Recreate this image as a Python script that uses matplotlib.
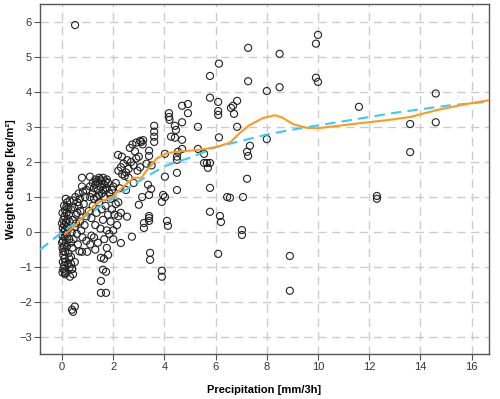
import numpy as np
import matplotlib.pyplot as plt

# DATA --->

# dense cluster close to zero precipitation
precip_low = [0.02, 0.05, 0.08, 0.03, 0.10, 0.05, 0.12, 0.02, 0.08, 0.15, 0.04, 0.10, 0.02, 0.18, 0.06,
              0.12, 0.03, 0.20, 0.08, 0.15, 0.05, 0.22, 0.10, 0.02, 0.18, 0.12, 0.25, 0.08, 0.20, 0.15,
              0.30, 0.28, 0.25, 0.22, 0.30, 0.12, 0.25, 0.30, 0.20, 0.28, 0.05, 0.14, 0.10, 0.27, 0.00,
              0.00, 0.17, 0.12, 0.31, 0.43, 0.39, 0.35,
              0.35, 0.40, 0.45, 0.38, 0.50, 0.42, 0.55, 0.48, 0.60, 0.52, 0.65, 0.70, 0.75, 0.80, 0.62,
              0.72, 0.85, 0.90, 0.95, 0.88, 0.58, 0.68, 0.78, 0.98, 0.45, 0.35, 0.55, 0.65, 0.82, 0.95,
              0.40, 0.50, 0.35, 0.70, 0.60]
weight_low = [-1.15, -1.05, -0.95, -0.85, -0.75, -0.65, -0.55, -0.45, -0.40, -0.30, -0.25, -0.15, -0.10, -0.05, 0.00,
              0.05, 0.12, 0.15, 0.20, 0.28, 0.35, 0.38, 0.45, 0.55, 0.55, 0.62, 0.70, 0.75, 0.85, 0.95,
              0.90, -0.20, -0.60, -0.90, -1.00, -1.20, 0.10, 0.30, -0.40, -0.75, -0.55, -0.85, -1.10, 0.50, -0.30,
              0.25, 0.72, -1.16, -1.27, -1.20, -1.05, -0.90,
              -0.70, -0.45, -0.20, 0.00, 0.15, 0.35, 0.50, 0.70, 0.85, 1.00, 1.10, 0.30, 0.05, -0.15, -0.35,
              0.60, 0.80, 1.00, 0.45, 0.20, -0.05, -0.55, -0.56, -0.56, 0.90, 0.65, 0.25, 0.75, 1.15, 1.20,
              -1.05, -0.85, -0.30, 0.95, 0.55]

# 1 - 3.2 mm/3h
precip_mid = [1.10, 1.20, 1.25, 1.30, 1.35, 1.40, 1.45, 1.50, 1.55, 1.60, 1.65, 1.70, 1.75, 1.80, 1.85,
              1.90, 1.45, 1.30, 1.55, 1.65, 1.75, 1.20, 1.40, 1.60, 1.50, 1.70, 1.35, 1.25, 2.00, 2.10,
              1.95, 0.78, 1.09, 0.78, 1.09,
              1.05, 1.15, 1.20, 1.30, 1.35, 1.45, 1.50, 1.55, 1.60, 1.70, 1.75, 1.80, 1.90, 1.95, 2.05,
              2.10, 2.15, 1.25, 1.40, 1.15, 1.65, 1.85, 2.00, 2.20, 2.30, 2.54, 2.30, 2.73, 2.20,
              1.64, 1.52, 1.80, 1.60, 1.72, 1.52, 1.52, 1.72, 1.30, 1.10, 0.95, 2.00, 1.75,
              2.19, 2.34, 2.20, 2.30, 2.40, 2.50, 2.55, 2.60, 2.70, 2.80, 2.85, 2.90, 2.95, 3.00, 3.05,
              2.65, 2.75, 2.90, 3.05, 3.10, 3.15, 3.17, 2.45, 2.35, 2.60, 3.00, 2.50, 2.25, 2.80]
weight_mid = [1.00, 1.10, 1.25, 1.35, 1.45, 1.20, 1.05, 1.30, 1.45, 1.55, 1.35, 1.20, 1.50, 1.40, 1.10,
              0.95, 1.55, 1.50, 1.10, 1.00, 1.25, 1.40, 1.40, 1.20, 1.50, 1.45, 1.00, 0.95, 1.30, 1.40,
              1.20, 1.55, 1.58, 1.30, 1.30,
              0.60, 0.40, 0.75, 0.20, 0.55, 0.85, 0.10, 0.65, 0.35, 0.75, 0.05, 0.50, 0.30, 0.65, 0.50,
              0.80, 0.20, -0.15, -0.30, -0.10, -0.20, -0.05, 0.05, 0.45, 0.55, 0.44, -0.31, -0.13, 0.85,
              -0.76, -0.73, -0.65, -1.07, -1.13, -1.39, -1.73, -1.73, -0.50, -0.35, -0.25, -0.20, -0.45,
              2.20, 2.15, 1.75, 1.85, 1.95, 1.70, 2.05, 1.80, 2.00, 1.90, 2.30, 2.10, 1.75, 2.15, 1.85,
              2.40, 2.50, 2.55, 2.60, 2.57, 2.50, 2.62, 1.60, 1.65, 1.55, 0.78, 1.20, 1.25, 1.40]

# sparse points above 3.2 mm/3h
precip_high = [3.60, 3.60, 3.60, 3.60, 3.40, 3.40, 3.36, 3.48, 3.40, 3.13, 3.40, 3.40, 3.40, 3.20, 3.20,
               3.44, 3.44, 3.30, 3.50,
               3.90, 4.10, 4.14, 3.90, 3.90, 3.95, 4.02, 4.02, 4.02, 4.18, 4.18, 4.20, 4.41, 4.45, 4.26,
               4.41, 4.69, 4.69, 4.53, 4.49, 4.49, 4.49, 4.49, 4.92, 4.69, 4.92, 4.69,
               5.31, 5.31, 5.55, 5.55, 5.66, 5.78, 5.70, 5.78, 5.78, 5.78, 6.13, 6.10, 6.10, 6.10, 6.13,
               6.60, 6.68, 6.84, 6.72, 6.84, 7.27, 7.27, 7.23, 7.27, 7.34, 7.23, 6.45, 6.56, 7.07, 5.78,
               6.17, 6.21, 6.10, 7.03, 7.03,
               8.00, 8.50, 8.50, 8.00, 9.92, 10.00, 9.92, 10.00, 8.90, 8.90, 11.60, 12.30, 12.30, 13.60,
               13.60, 14.60, 14.60, 0.51, 0.39, 0.50, 0.43]
weight_high = [3.03, 2.86, 2.72, 2.57, 2.32, 2.17, 1.35, 1.23, 1.06, 1.00, 0.46, 0.40, 0.32, 0.26, 0.12,
               -0.59, -0.79, 1.95, 1.90,
               0.86, 0.32, 0.18, -1.10, -1.27, 1.06, 1.00, 2.23, 1.58, 3.39, 3.28, 3.20, 3.03, 2.91, 2.72,
               2.69, 2.63, 2.37, 2.29, 2.15, 2.06, 1.69, 1.20, 3.65, 3.60, 3.39, 3.13,
               3.00, 2.37, 2.23, 1.97, 1.97, 1.97, 1.83, 1.26, 4.45, 3.83, 4.80, 3.71, 3.45, 3.34, 2.70,
               3.54, 3.60, 3.74, 3.37, 3.00, 5.25, 4.30, 2.29, 2.17, 2.46, 1.52, 1.00, 0.98, 1.00, 0.58,
               0.46, 0.29, -0.62, 0.06, -0.08,
               4.02, 4.13, 5.08, 2.65, 5.37, 5.62, 4.40, 4.28, -0.68, -1.67, 3.57, 1.03, 0.95, 3.08,
               2.28, 3.95, 3.13, 5.90, -2.21, -2.12, -2.27]

# loess curve (orange)
loess_x = [0.12, 0.30, 0.60, 0.90, 1.20, 1.50, 1.80, 2.00, 2.40, 2.80, 3.10, 3.30, 3.70, 4.10, 4.60,
           5.00, 5.50, 6.05, 6.56, 6.95, 7.30, 7.85, 8.32, 8.59, 9.02, 9.57, 10.00, 11.25, 12.80, 13.60,
           14.65, 15.80, 16.70]
loess_y = [-0.05, 0.05, 0.25, 0.50, 0.72, 0.88, 0.95, 1.02, 1.30, 1.55, 1.55, 1.75, 2.10, 2.25, 2.30,
           2.32, 2.36, 2.43, 2.55, 2.83, 3.04, 3.25, 3.33, 3.27, 3.08, 2.97, 2.96, 3.07, 3.20, 3.28,
           3.48, 3.65, 3.76]

# fitted curve (cyan, dashed)
fit_x = [-0.86, 0, 1, 2, 3, 4, 5, 6, 7, 8, 9, 10, 11, 12, 13, 14, 15, 16, 16.7]
fit_y = [-0.50, 0.00, 0.50, 0.97, 1.45, 1.88, 2.12, 2.42, 2.60, 2.78, 2.92, 3.04, 3.16, 3.28, 3.40,
         3.50, 3.60, 3.67, 3.72]

# <--- DATA

precip = precip_low + precip_mid + precip_high
weight = weight_low + weight_mid + weight_high

plt.rcParams['font.family'] = ['Liberation Sans', 'DejaVu Sans']

fig = plt.figure(figsize=(5.0, 3.99), dpi=100)
ax = fig.add_axes([0.08, 0.113, 0.898, 0.877])

grid_col = '#cccccc'
for gx in range(0, 17, 2):
    ax.axvline(gx, color=grid_col, linestyle=(0, (6, 4)), linewidth=1.0, zorder=0)
for gy in range(-3, 7):
    ax.axhline(gy, color=grid_col, linestyle=(0, (6, 4)), linewidth=1.0, zorder=0)

ax.scatter(precip, weight, s=26, facecolors='none', edgecolors='#222222',
           linewidths=0.8, zorder=2)
ax.plot(fit_x, fit_y, color='#33ccff', linestyle=(0, (5, 3)), linewidth=1.5, zorder=3)
ax.plot(loess_x, loess_y, color='#ff9a1f', linewidth=1.5, zorder=4)

ax.set_xlim(-0.86, 16.68)
ax.set_ylim(-3.47, 6.5)
ax.set_xticks(range(0, 17, 2))
ax.set_yticks(range(-3, 7))

for sp in ax.spines.values():
    sp.set_color('#555555')
    sp.set_linewidth(1.0)
ax.tick_params(direction='out', length=4, width=0.8, color='#555555',
               labelsize=8, labelcolor='#333333', pad=2)

ax.set_xlabel('Precipitation [mm/3h]', fontsize=8, fontweight='bold', labelpad=9)
ax.set_ylabel('Weight change [kg/m²]', fontsize=8, fontweight='bold', labelpad=2)

fig.savefig('out.png', dpi=100)
